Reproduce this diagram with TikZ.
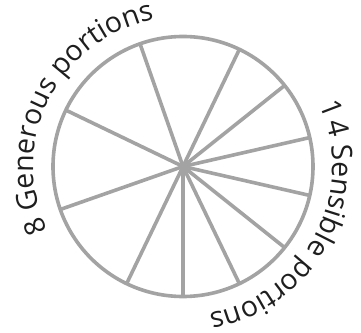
\documentclass[tikz,border=0pt]{standalone}
\usepackage{fontspec}
\newfontfamily\labelfont{Open Sans}
\usetikzlibrary{decorations.text}
\definecolor{wheelgray}{RGB}{163,163,163}
\definecolor{labelink}{RGB}{30,30,30}
\tikzset{
  wheelline/.style={draw=wheelgray, line width=3.6pt},
  arclabel/.style={decorate, decoration={text along path, text align=left, text color=labelink, text={#1}}}
}
\begin{document}
\begin{tikzpicture}[x=1pt,y=1pt]
\useasboundingbox (0,0) rectangle (361,332);
\coordinate (c) at (183,165.5);
\draw[wheelline] (c) circle[radius=130];
\foreach \a in {109.3,154.3,199.3,64.3,38.57,12.86,-12.86,-38.57,-64.3,-90,-115.7}
  \draw[wheelline] (c) -- ++(\a:130);
\path[arclabel={|\labelfont\fontsize{28.5}{30}\selectfont|8 Generous portions}]
  (c) ++(205.5:149.5) arc[start angle=205.5, end angle=85, radius=149.5];
\path[arclabel={|\labelfont\fontsize{28.5}{30}\selectfont|{1\kern3pt}4 Sensible portions}]
  (c) ++(24.5:149.5) arc[start angle=24.5, end angle=-100, radius=149.5];
\end{tikzpicture}
\end{document}
